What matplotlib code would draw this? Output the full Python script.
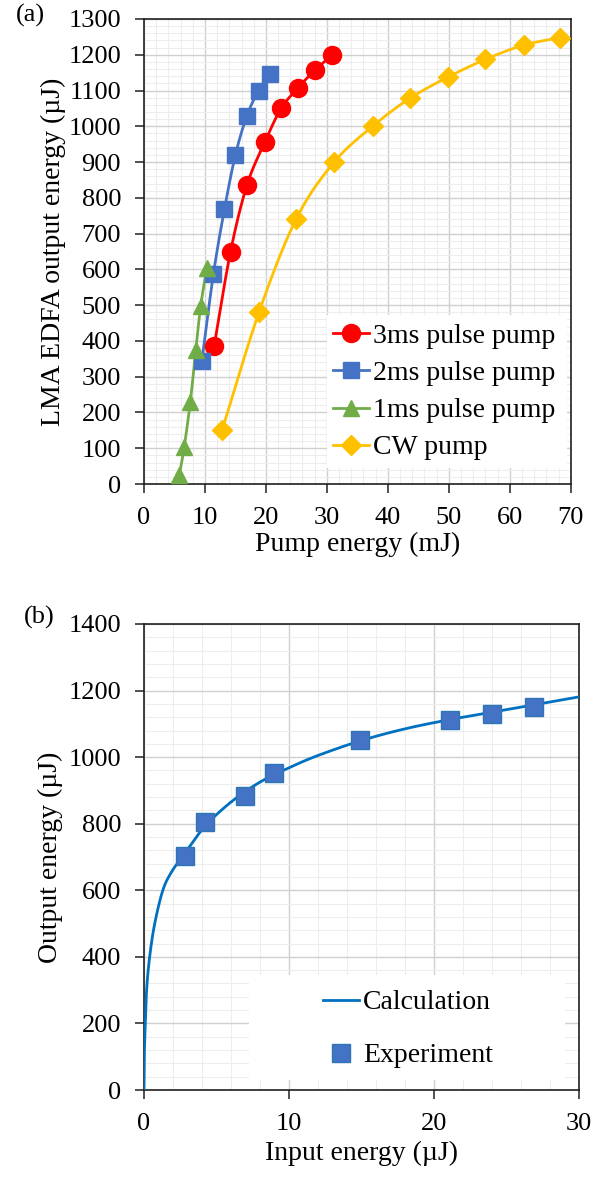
import matplotlib
matplotlib.use("Agg")
import matplotlib.pyplot as plt
import numpy as np
from matplotlib.ticker import MultipleLocator
from matplotlib.patches import Rectangle

plt.rcParams['font.family'] = ['Liberation Serif', 'DejaVu Serif']

# ---- panel (a) data: pump energy (mJ) vs output energy (uJ)
pump_3ms = [11.5, 14.2, 16.9, 19.8, 22.5, 25.3, 28.1, 30.8]
out_3ms = [385, 650, 836, 955, 1050, 1108, 1158, 1198]
pump_2ms = [9.5, 11.4, 13.2, 15.0, 16.9, 18.8, 20.6]
out_2ms = [345, 588, 768, 920, 1030, 1100, 1147]
pump_1ms = [5.8, 6.6, 7.6, 8.5, 9.3, 10.3]
out_1ms = [25, 104, 230, 375, 497, 605]
pump_cw = [12.8, 18.9, 25.0, 31.2, 37.5, 43.6, 49.8, 56.0, 62.3, 68.3]
out_cw = [150, 482, 742, 900, 1000, 1078, 1137, 1187, 1227, 1248]

# ---- panel (b) data: input energy (uJ) vs output energy (uJ)
calc_in = [0, 0.02, 0.09, 0.18, 0.39, 0.74, 1.3, 1.9, 2.8, 4.2, 6, 8, 10, 12, 15, 18, 21, 24, 27, 30]
calc_out = [0, 100, 200, 300, 400, 500, 600, 655, 710, 792, 865, 925, 968, 1005, 1050, 1085, 1112, 1135, 1158, 1181]
exp_in = [2.8, 4.2, 7.0, 9.0, 14.9, 21.1, 24.0, 26.9]
exp_out = [703, 805, 884, 952, 1050, 1111, 1130, 1152]


def smooth(x, y, n=20):
    # catmull-rom style smoothing like excel "smoothed line"
    x = np.asarray(x, float)
    y = np.asarray(y, float)
    px = np.concatenate([[2 * x[0] - x[1]], x, [2 * x[-1] - x[-2]]])
    py = np.concatenate([[2 * y[0] - y[1]], y, [2 * y[-1] - y[-2]]])
    xs, ys = [], []
    t = np.linspace(0, 1, n)
    for i in range(1, len(px) - 2):
        p0, p1, p2, p3 = [np.array([px[j], py[j]]) for j in range(i - 1, i + 3)]
        for tt in t:
            pt = 0.5 * ((2 * p1) + (-p0 + p2) * tt + (2 * p0 - 5 * p1 + 4 * p2 - p3) * tt ** 2
                        + (-p0 + 3 * p1 - 3 * p2 + p3) * tt ** 3)
            xs.append(pt[0])
            ys.append(pt[1])
    return xs, ys


def style_axes(ax):
    ax.grid(True, which='major', color='#D0D0D0', lw=1.0)
    ax.grid(True, which='minor', color='#EDEDED', lw=0.8)
    ax.set_axisbelow(True)
    for s in ax.spines.values():
        s.set_color('#202020')
        s.set_linewidth(1.2)
    ax.tick_params(which='major', direction='out', length=6.5, width=1.1, labelsize=19,
                   color='#202020')
    ax.tick_params(axis='y', which='major', pad=10)
    ax.tick_params(axis='x', which='major', pad=10)
    ax.tick_params(which='minor', length=0)


fig = plt.figure(figsize=(6.06, 11.78), dpi=100)

# ---------------- (a)
ax1 = fig.add_axes([0.2376, 0.5891, 0.7042, 0.3948])
series = [
    (pump_3ms, out_3ms, '#FF0000', 'o', 13, '3ms pulse pump'),
    (pump_2ms, out_2ms, '#4472C4', 's', 11, '2ms pulse pump'),
    (pump_1ms, out_1ms, '#70AD47', '^', 12, '1ms pulse pump'),
    (pump_cw, out_cw, '#FFC000', 'D', 10, 'CW pump'),
]
for xv, yv, c, m, ms, lab in series:
    sx, sy = smooth(xv, yv)
    ax1.plot(sx, sy, color=c, lw=2.0, zorder=3)
    ax1.plot(xv, yv, ls='none', marker=m, ms=ms, color=c, mec=c, zorder=4)
    ax1.plot([], [], color=c, lw=2.0, marker=m, ms=ms, mec=c, label=lab)

ax1.set_xlim(0, 70)
ax1.set_ylim(0, 1300)
ax1.xaxis.set_major_locator(MultipleLocator(10))
ax1.xaxis.set_minor_locator(MultipleLocator(2))
ax1.yaxis.set_major_locator(MultipleLocator(100))
ax1.yaxis.set_minor_locator(MultipleLocator(20))
style_axes(ax1)
ax1.set_xlabel('Pump energy (mJ)', fontsize=20, labelpad=2)
ax1.set_ylabel('LMA EDFA output energy (µJ)', fontsize=20, labelpad=2)
ax1.add_patch(Rectangle((0.429, 0.034), 0.562, 0.329, transform=ax1.transAxes,
                        facecolor='white', edgecolor='none', zorder=5))
leg1 = ax1.legend(loc='upper left', bbox_to_anchor=(0.443, 0.345), fontsize=20, frameon=False,
                  handlelength=1.3, handletextpad=0.15, borderpad=0, borderaxespad=0,
                  labelspacing=0.42)
leg1.set_zorder(6)
fig.text(0.027, 0.997, '(a)', fontsize=19, va='top', ha='left')

# ---------------- (b)
ax2 = fig.add_axes([0.2376, 0.0747, 0.7178, 0.3956])
cx, cy = smooth(calc_in, calc_out, n=30)
ax2.plot(cx, cy, color='#0070C0', lw=2.0, label='Calculation', zorder=3)
ax2.plot(exp_in, exp_out, ls='none', marker='s', ms=13, color='#4472C4', mec='#2E75B6',
         mew=1.0, label='Experiment', zorder=4)
ax2.set_xlim(0, 30)
ax2.set_ylim(0, 1400)
ax2.xaxis.set_major_locator(MultipleLocator(10))
ax2.xaxis.set_minor_locator(MultipleLocator(2))
ax2.yaxis.set_major_locator(MultipleLocator(200))
ax2.yaxis.set_minor_locator(MultipleLocator(40))
style_axes(ax2)
ax2.set_xlabel('Input energy (µJ)', fontsize=20, labelpad=4)
ax2.set_ylabel('Output energy (µJ)', fontsize=20, labelpad=4)
ax2.add_patch(Rectangle((0.241, 0.021), 0.727, 0.226, transform=ax2.transAxes,
                        facecolor='white', edgecolor='none', zorder=5))
leg2 = ax2.legend(loc='upper left', bbox_to_anchor=(0.411, 0.215), fontsize=20, frameon=False,
                  handlelength=1.3, handletextpad=0.15, borderpad=0, borderaxespad=0,
                  labelspacing=1.0)
leg2.set_zorder(6)
fig.text(0.040, 0.486, '(b)', fontsize=19, va='top', ha='left')

fig.savefig('out.png', dpi=100)
